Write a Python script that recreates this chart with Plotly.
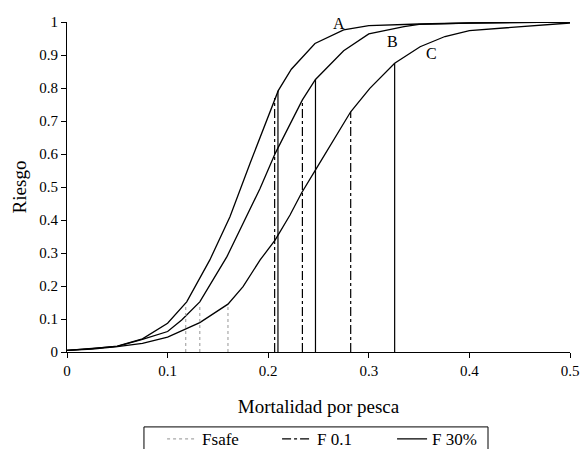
import plotly.graph_objects as go

# Curve data (Mortalidad por pesca, Riesgo)
a_f = [0, 0.025, 0.05, 0.075, 0.1, 0.119, 0.142, 0.162, 0.182, 0.202, 0.21, 0.223, 0.2465, 0.275, 0.3, 0.35, 0.4, 0.5]
a_r = [0.005, 0.01, 0.018, 0.04, 0.087, 0.152, 0.279, 0.41, 0.572, 0.733, 0.792, 0.857, 0.935, 0.976, 0.989, 0.994, 0.997, 1.0]

b_f = [0, 0.025, 0.05, 0.075, 0.1, 0.114, 0.132, 0.159, 0.182, 0.192, 0.207, 0.2217, 0.234, 0.247, 0.275, 0.3, 0.335, 0.35, 0.4, 0.5]
b_r = [0.005, 0.01, 0.017, 0.038, 0.062, 0.097, 0.152, 0.289, 0.43, 0.496, 0.602, 0.693, 0.764, 0.826, 0.913, 0.964, 0.986, 0.993, 0.997, 1.0]

c_f = [0, 0.025, 0.05, 0.075, 0.1, 0.132, 0.16, 0.175, 0.192, 0.207, 0.2217, 0.233, 0.2475, 0.282, 0.301, 0.3257, 0.351, 0.3757, 0.4, 0.5]
c_r = [0.005, 0.009, 0.016, 0.026, 0.045, 0.089, 0.145, 0.198, 0.279, 0.34, 0.415, 0.481, 0.554, 0.728, 0.799, 0.875, 0.925, 0.956, 0.974, 0.997]

# Reference points (F value, risk at curve) for A, B, C
fsafe_f = [0.118, 0.132, 0.160]
fsafe_r = [0.145, 0.145, 0.145]
f01_f = [0.2064, 0.234, 0.282]
f01_r = [0.770, 0.764, 0.728]
f30_f = [0.2097, 0.247, 0.3257]
f30_r = [0.792, 0.826, 0.875]

curve_labels = ["A", "B", "C"]
label_f = [0.2707, 0.324, 0.3625]
label_r = [0.996, 0.941, 0.906]

x_ticks = [0, 0.1, 0.2, 0.3, 0.4, 0.5]
x_ticktext = ["0", "0.1", "0.2", "0.3", "0.4", "0.5"]
y_ticks = [0, 0.1, 0.2, 0.3, 0.4, 0.5, 0.6, 0.7, 0.8, 0.9, 1]
y_ticktext = ["0", "0.1", "0.2", "0.3", "0.4", "0.5", "0.6", "0.7", "0.8", "0.9", "1"]

FONT = "Liberation Serif"

fig = go.Figure()
for f, r in [(a_f, a_r), (b_f, b_r), (c_f, c_r)]:
    fig.add_trace(go.Scatter(x=f, y=r, mode="lines", line=dict(color="black", width=1.3),
                             showlegend=False, hoverinfo="skip"))

def add_vlines(fs, rs, name, color, dash, width):
    for i, (f, r) in enumerate(zip(fs, rs)):
        fig.add_trace(go.Scatter(x=[f, f], y=[0, r], mode="lines", name=name,
                                 line=dict(color=color, dash=dash, width=width),
                                 legendgroup=name, showlegend=(i == 0)))

add_vlines(fsafe_f, fsafe_r, "Fsafe", "#a8a8a8", "dot", 1.2)
add_vlines(f01_f, f01_r, "F 0.1", "black", "dashdot", 1.2)
add_vlines(f30_f, f30_r, "F 30%", "black", "solid", 1.2)

for t, f, r in zip(curve_labels, label_f, label_r):
    fig.add_annotation(x=f, y=r, text=t, showarrow=False, xanchor="center", yanchor="middle",
                       font=dict(family=FONT, size=16, color="black"))

# legend frame (box runs past the bottom edge, as in the original)
fig.add_shape(type="rect", xref="paper", yref="paper", x0=0.153, x1=0.837, y0=-0.40, y1=-0.227,
              line=dict(color="black", width=1), fillcolor="rgba(0,0,0,0)", layer="above")

fig.update_layout(
    width=583, height=449,
    margin=dict(l=67, r=13, t=22, b=97, autoexpand=False),
    paper_bgcolor="white", plot_bgcolor="white",
    font=dict(family=FONT, size=15, color="black"),
    xaxis=dict(range=[0, 0.5], tickvals=x_ticks, ticktext=x_ticktext,
               tickfont=dict(family=FONT, size=15, color="black"),
               showgrid=False, zeroline=False, showline=True, linecolor="black", linewidth=1,
               ticks="outside", ticklen=5, tickcolor="black",
               title=dict(text="Mortalidad por pesca", font=dict(family=FONT, size=19, color="black"),
                          standoff=21)),
    yaxis=dict(range=[0, 1], tickvals=y_ticks, ticktext=y_ticktext,
               tickfont=dict(family=FONT, size=15, color="black"),
               showgrid=False, zeroline=False, showline=True, linecolor="black", linewidth=1,
               ticks="outside", ticklen=5, tickcolor="black",
               title=dict(text="Riesgo", font=dict(family=FONT, size=19, color="black"), standoff=7)),
    legend=dict(orientation="h", x=0.189, y=-0.21, xanchor="left", yanchor="top",
                borderwidth=0, bgcolor="rgba(0,0,0,0)", font=dict(family=FONT, size=17, color="black"),
                entrywidth=70, entrywidthmode="pixels", tracegroupgap=0),
)

fig.write_html("out.html")
